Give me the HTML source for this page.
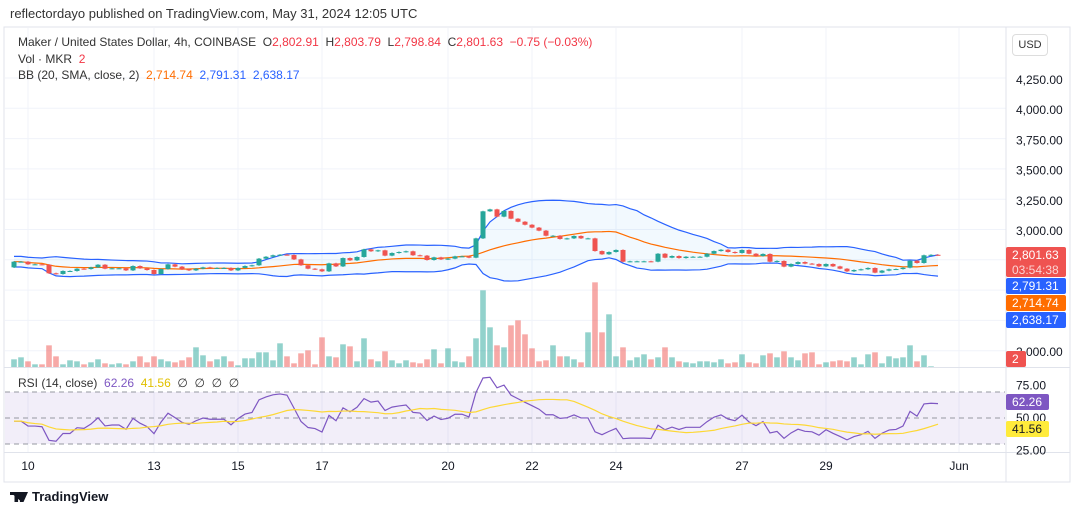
<!DOCTYPE html>
<html><head><meta charset="utf-8"><style>
body{margin:0;width:1080px;height:515px;background:#fff;font-family:"Liberation Sans",sans-serif;overflow:hidden;position:relative}
.t{position:absolute;white-space:nowrap}
svg{position:absolute;left:0;top:0}
</style></head><body>
<div class="t" style="left:10px;top:6px;font-size:13px;color:#333">reflectordayo published on TradingView.com, May 31, 2024 12:05 UTC</div>
<svg width="1080" height="515" id="chart"></svg>
<div class="t" style="left:18px;top:35px;font-size:12px;color:#333">Maker / United States Dollar, 4h, COINBASE&nbsp; O<span style="color:#f23645">2,802.91</span>&nbsp; H<span style="color:#f23645">2,803.79</span>&nbsp; L<span style="color:#f23645">2,798.84</span>&nbsp; C<span style="color:#f23645">2,801.63&nbsp; −0.75 (−0.03%)</span></div>
<div class="t" style="left:18px;top:52px;font-size:12px;color:#333">Vol · MKR&nbsp; <span style="color:#f23645">2</span></div>
<div class="t" style="left:18px;top:68px;font-size:12px;color:#333">BB (20, SMA, close, 2)&nbsp; <span style="color:#ff6d00">2,714.74</span>&nbsp; <span style="color:#2962ff">2,791.31</span>&nbsp; <span style="color:#2962ff">2,638.17</span></div>
<div class="t" style="left:18px;top:376px;font-size:12px;color:#333">RSI (14, close)&nbsp; <span style="color:#7e57c2">62.26</span>&nbsp; <span style="color:#e0c000">41.56</span>&nbsp; ∅&nbsp; ∅&nbsp; ∅&nbsp; ∅</div>
<div class="t" style="left:1012px;top:34px;width:34px;height:20px;border:1px solid #ddd;border-radius:4px;font-size:11px;line-height:20px;text-align:center;color:#333">USD</div>
<div class="t" style="left:10px;top:489px;font-size:13px;color:#131722;font-weight:bold"><span style="display:inline-block;width:18px;height:10px;background:#131722;vertical-align:-1px;margin-right:4px;clip-path:polygon(0 0,45% 0,45% 100%,25% 100%,25% 30%,0 30%,0 0,60% 0,80% 0,70% 100%,55% 100%,55% 0,100% 0,75% 100%,65% 100%)"></span>TradingView</div>
<script>
const closes=[2746,2746,2724,2724,2721,2650,2644,2669,2669,2688,2685,2699,2721,2688,2691,2691,2674,2710,2691,2677,2644,2685,2724,2705,2683,2674,2688,2699,2694,2694,2694,2674,2694,2710,2716,2771,2787,2799,2804,2801,2765,2716,2688,2683,2666,2732,2707,2776,2757,2785,2848,2832,2840,2796,2818,2826,2832,2799,2796,2760,2782,2765,2771,2790,2790,2779,2939,3163,3179,3119,3166,3102,3077,3052,3028,3003,2961,2961,2934,2939,2959,2939,2939,2834,2807,2826,2843,2746,2749,2749,2749,2746,2812,2779,2793,2776,2787,2787,2787,2812,2834,2845,2826,2818,2843,2812,2793,2810,2746,2752,2705,2727,2743,2730,2727,2707,2727,2707,2688,2666,2677,2683,2694,2655,2672,2683,2685,2696,2754,2735,2799,2802.9,2801.6];
const firstOpen=2699;
const volumes=[23,29,17,8,8,65,32,8,20,17,8,14,23,11,8,11,8,17,32,14,32,23,17,14,20,29,59,35,17,23,32,17,5,26,26,44,44,20,71,32,11,41,50,8,89,32,29,68,62,17,86,23,17,47,20,11,20,14,11,23,53,11,56,17,14,32,86,230,119,65,59,125,140,98,56,17,20,65,32,32,23,14,104,254,104,158,32,59,20,29,38,23,29,59,29,17,14,11,17,17,14,23,11,14,38,14,11,35,41,29,47,29,20,41,44,8,14,17,20,17,29,8,38,44,11,32,26,29,65,17,35,2];
const priceTicks=[4250,4000,3750,3500,3250,3000,2000];
const rsiTicks=[75,50,25];
const dayLabels=["10","13","15","17","20","22","24","27","29","Jun"];
const dayIndex=[2,20,32,44,62,74,86,104,116,135];
const NS="http://www.w3.org/2000/svg",svg=document.getElementById('chart');
function el(tag,a,parent){const e=document.createElementNS(NS,tag);for(const k in a)e.setAttribute(k,a[k]);(parent||svg).appendChild(e);return e;}
const xOf=i=>14+i*7.0;
const yP=p=>231-(p-3000)/8.28;
const yV=v=>367-v/3;
const yR=v=>418-(v-50)*1.3;
const GREEN="#26a69a",RED="#ef5350";
el('rect',{x:4,y:27,width:1066,height:455,fill:'none',stroke:'#e0e3eb','stroke-width':1});
for(let y=78;y<365;y+=30.3)el('line',{x1:5,x2:1006,y1:y,y2:y,stroke:'#f0f3fa'});
dayIndex.forEach(d=>{el('line',{x1:xOf(d),x2:xOf(d),y1:28,y2:452,stroke:'#f0f3fa'});});
el('line',{x1:1006,x2:1006,y1:27,y2:482,stroke:'#e0e3eb'});
el('line',{x1:4,x2:1070,y1:367.5,y2:367.5,stroke:'#e0e3eb'});
el('line',{x1:4,x2:1070,y1:452.5,y2:452.5,stroke:'#e0e3eb'});
const mid=[],up=[],lo=[];
closes.forEach((c,i)=>{const w=closes.slice(Math.max(0,i-19),i+1);const m=w.reduce((a,b)=>a+b,0)/w.length;const sd=Math.sqrt(w.reduce((a,b)=>a+(b-m)*(b-m),0)/w.length);const s=Math.max(sd,22);mid.push(m);up.push(m+2*s);lo.push(m-2*s);});
let fp=up.map((v,i)=>xOf(i)+','+yP(v)).join(' ')+' '+lo.map((v,i)=>xOf(i)+','+yP(v)).reverse().join(' ');
el('polygon',{points:fp,fill:'rgba(33,150,243,0.06)'});
[[up,'#2962ff'],[lo,'#2962ff'],[mid,'#ff6d00']].forEach(([a,c])=>{const p=el('polyline',{points:a.map((v,i)=>xOf(i)+','+yP(v)).join(' '),fill:'none',stroke:c,'stroke-width':1.2});});
volumes.forEach((v,i)=>{const o=i?closes[i-1]:firstOpen;const r=el('rect',{x:xOf(i)-2.8,y:yV(v),width:5.6,height:v/3,fill:closes[i]>=o?'rgba(38,166,154,0.5)':'rgba(239,83,80,0.5)'});});
closes.forEach((c,i)=>{const o=i?closes[i-1]:firstOpen;const col=c>=o?GREEN:RED;const hi=Math.max(o,c)+5,lw=Math.min(o,c)-5;
el('line',{x1:xOf(i),x2:xOf(i),y1:yP(hi),y2:yP(lw),stroke:col,'stroke-width':1});
const b=el('rect',{x:xOf(i)-2.5,y:yP(Math.max(o,c)),width:5,height:Math.max(1,Math.abs(o-c)/8.28),fill:col});});
let ag=0,al=0;const rsi=[];
for(let i=0;i<closes.length;i++){const d=i?closes[i]-closes[i-1]:0;const g=Math.max(d,0),l=Math.max(-d,0);
if(i===0){ag=10;al=11;}else{ag=(ag*13+g)/14;al=(al*13+l)/14;}rsi.push(100-100/(1+ag/al));}
const rsiMa=rsi.map((v,i)=>{const w=rsi.slice(Math.max(0,i-13),i+1);return w.reduce((a,b)=>a+b,0)/w.length;});
el('rect',{x:5,y:yR(70),width:1000,height:yR(30)-yR(70),fill:'rgba(126,87,194,0.1)'});
[70,50,30].forEach(v=>el('line',{x1:5,x2:1005,y1:yR(v),y2:yR(v),stroke:'#9598a1','stroke-dasharray':'5,4'}));
const rl=el('polyline',{points:rsi.map((v,i)=>xOf(i)+','+yR(v)).join(' '),fill:'none',stroke:'#7e57c2','stroke-width':1.2});
const ml=el('polyline',{points:rsiMa.map((v,i)=>xOf(i)+','+yR(v)).join(' '),fill:'none',stroke:'#fdd835','stroke-width':1.2});
function txt(x,y,s,a){const t=el('text',Object.assign({x:x,y:y,'font-size':12,fill:'#131722','font-family':'Liberation Sans, sans-serif'},a||{}));t.textContent=s;return t;}
priceTicks.forEach(p=>{const t=txt(1016,yP(p)+4,p.toLocaleString('en-US',{minimumFractionDigits:2}));});
rsiTicks.forEach(v=>{const t=txt(1016,yR(v)+4,v.toFixed(2));});
dayLabels.forEach((d,k)=>{const t=txt(xOf(dayIndex[k]),470,d,{'text-anchor':'middle'});});
function box(y,h,w,bg,lines,fg){el('rect',{x:1006,y:y,width:w,height:h,fill:bg,rx:2});lines.forEach((s,k)=>txt(1012,y+12+k*15,s,{fill:fg||'#fff',opacity:k?0.75:1}));}
box(247,30,60,'#ef5350',['2,801.63','03:54:38']);
box(278,16,60,'#2962ff',['2,791.31']);
box(295,16,60,'#ff6d00',['2,714.74']);
box(312,16,60,'#2962ff',['2,638.17']);
box(351,16,20,'#ef5350',['2']);
box(394,16,43,'#7e57c2',['62.26']);
box(421,16,43,'#ffeb3b',['41.56'],'#131722');
</script>
</body></html>
